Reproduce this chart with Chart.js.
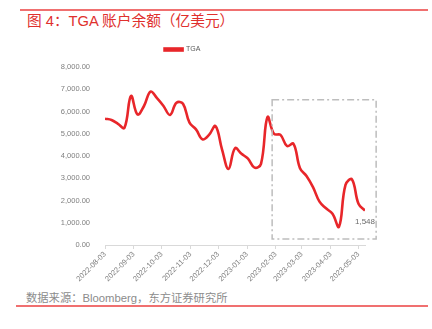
<!DOCTYPE html>
<html>
<head>
<meta charset="utf-8">
<script src="https://cdn.jsdelivr.net/npm/chart.js@4"></script>
<style>
    html,body{margin:0;padding:0;background:#fff;}
    body{width:432px;height:329px;position:relative;overflow:hidden;font-family:"Liberation Sans","Noto Sans CJK SC",sans-serif;}
    .rule{position:absolute;height:1.5px;background:#f07070;}
    #title{position:absolute;left:27px;top:11px;font-size:14.7px;font-weight:400;color:#e0302d;white-space:nowrap;line-height:20px;}
    #source{position:absolute;left:26px;top:290px;font-size:11.3px;color:#8c8c8c;white-space:nowrap;line-height:16px;}
    #wrap{position:absolute;left:0;top:0;width:432px;height:290px;}
</style>
</head>
<body>
<div class="rule" style="left:20px;width:408px;top:9px"></div>
<div id="title">图 4：TGA 账户余额（亿美元）</div>
<div id="wrap"><canvas id="chart-tga"></canvas></div>
<div id="source">数据来源：Bloomberg，东方证券研究所</div>
<div class="rule" style="left:16px;width:412px;top:305px"></div>
<script>
// ── DATA ─────────────────────────────────────────────────
const weeks = ['2022-08-03','2022-08-10','2022-08-17','2022-08-24','2022-08-31','2022-09-07','2022-09-14','2022-09-21','2022-09-28',
    '2022-10-05','2022-10-12','2022-10-19','2022-10-26','2022-11-02','2022-11-09','2022-11-16','2022-11-23','2022-11-30',
    '2022-12-07','2022-12-14','2022-12-21','2022-12-28','2023-01-04','2023-01-11','2023-01-18','2023-01-25','2023-02-01',
    '2023-02-08','2023-02-15','2023-02-22','2023-03-01','2023-03-08','2023-03-15','2023-03-22','2023-03-29','2023-04-05',
    '2023-04-12','2023-04-19','2023-04-26','2023-05-03','2023-05-10'];
const tga = [5680,5620,5450,5270,6700,5870,6250,6900,6600,6250,5850,6400,6350,5500,5200,4750,4950,5350,
    4300,3420,4350,4100,3880,3480,3650,5750,5000,4950,4450,4550,3450,3100,2600,1950,1650,1400,820,2700,2950,1850,1548];
const tickLabels = ['2022-08-03','2022-09-03','2022-10-03','2022-11-03','2022-12-03','2023-01-03','2023-02-03','2023-03-03','2023-04-03','2023-05-03'];
const yTicks = [0,1000,2000,3000,4000,5000,6000,7000,8000];
// highlighted window (date range, value range)
const boxDates = ['2023-01-30','2023-05-22'];
const boxValues = [270,6530];

const DAY = 86400000;
const t0 = Date.parse(weeks[0]);
const toDay = s => (Date.parse(s)-t0)/DAY;
const points = weeks.map((w,i)=>({x:toDay(w),y:tga[i]}));
const tickDays = tickLabels.map(toDay);

// ── PLUGINS ──────────────────────────────────────────────
const boxPlugin = {
    id:'boxPlugin',
    afterDatasetsDraw(chart){
        const {ctx,scales:{x,y}} = chart;
        const x1=x.getPixelForValue(toDay(boxDates[0])), x2=x.getPixelForValue(toDay(boxDates[1]));
        const y1=y.getPixelForValue(boxValues[1]), y2=y.getPixelForValue(boxValues[0]);
        ctx.save();
        ctx.strokeStyle='#bdbdbd';ctx.lineWidth=1.5;ctx.setLineDash([7,3,2,3]);
        ctx.strokeRect(x1,y1,x2-x1,y2-y1);
        ctx.restore();
    }
};
const lastLabel = {
    id:'lastLabel',
    afterDatasetsDraw(chart){
        const meta = chart.getDatasetMeta(0);
        const pt = meta.data[meta.data.length-1];
        const ctx = chart.ctx;
        ctx.save();
        ctx.font='8px "Liberation Sans", Arial, sans-serif';
        ctx.fillStyle='#6b6b6b';ctx.textAlign='center';ctx.textBaseline='middle';
        ctx.fillText(tga[tga.length-1].toLocaleString('en-US'),pt.x,pt.y+11);
        ctx.restore();
    }
};

// ── CHART ────────────────────────────────────────────────
const axisFont = {family:'"Liberation Sans", Arial, sans-serif',size:7.5};
new Chart(document.getElementById('chart-tga'),{
    type:'line',
    data:{datasets:[{label:'TGA',data:points,borderColor:'#e8262a',backgroundColor:'#e8262a',borderWidth:2.6,tension:0.4,pointRadius:0,fill:false}]},
    options:{
        responsive:true,maintainAspectRatio:false,animation:false,
        layout:{padding:{top:38,right:67,left:0,bottom:0}},
        plugins:{
            legend:{display:true,position:'top',labels:{boxWidth:18,boxHeight:2,color:'#595959',padding:8,font:{...axisFont,size:7}}},
            // empty spacer between legend and plot
            subtitle:{display:true,text:'',weight:500,padding:0,font:{size:3.4}},
            tooltip:{enabled:false}
        },
        scales:{
            x:{type:'linear',min:0,max:toDay(weeks[weeks.length-1]),
                afterBuildTicks:s=>{s.ticks=tickDays.map(v=>({value:v}));},
                afterFit:s=>{s.height=45;},
                ticks:{color:'#7f7f7f',font:axisFont,minRotation:45,maxRotation:45,padding:1,
                    callback:(v)=>{const i=tickDays.indexOf(v);return i>=0?tickLabels[i]:'';}},
                grid:{drawOnChartArea:false,drawTicks:true,tickLength:4,color:'#d9d9d9'},
                border:{color:'#d9d9d9'}
            },
            y:{min:0,max:8000,
                afterBuildTicks:s=>{s.ticks=yTicks.map(v=>({value:v}));},
                afterFit:s=>{s.width=105;},
                ticks:{color:'#7f7f7f',font:axisFont,padding:7,
                    callback:v=>v.toLocaleString('en-US',{minimumFractionDigits:2,maximumFractionDigits:2})},
                grid:{display:false},
                border:{display:false}
            }
        }
    },
    plugins:[boxPlugin,lastLabel]
});
</script>
</body>
</html>
